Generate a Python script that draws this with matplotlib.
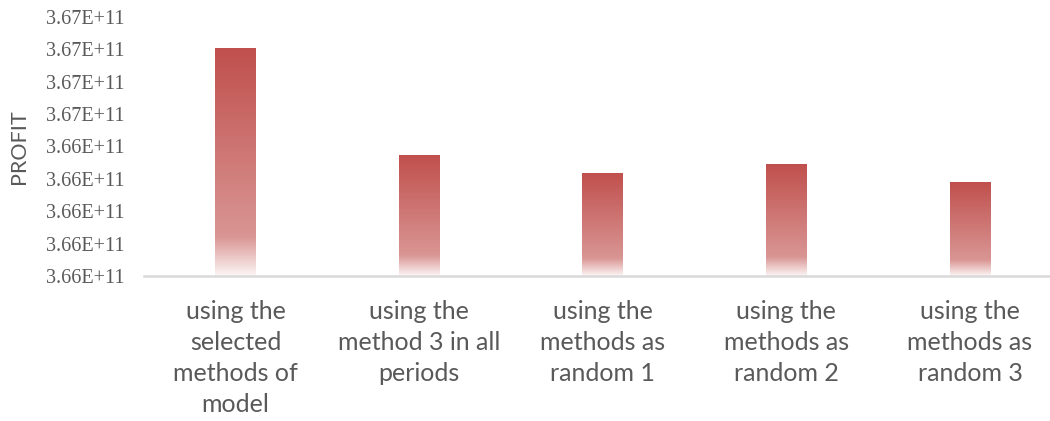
import numpy as np
import matplotlib
matplotlib.use("Agg")
import matplotlib.pyplot as plt
from matplotlib.colors import LinearSegmentedColormap

categories = [
    "using the\nselected\nmethods of\nmodel",
    "using the\nmethod 3 in all\nperiods",
    "using the\nmethods as\nrandom 1",
    "using the\nmethods as\nrandom 2",
    "using the\nmethods as\nrandom 3",
]
profit = [366.5405e9, 366.4741e9, 366.4630e9, 366.4691e9, 366.4580e9]
y_ticks = [366.40e9, 366.42e9, 366.44e9, 366.46e9, 366.48e9,
           366.50e9, 366.52e9, 366.54e9, 366.56e9]
y_tick_labels = ["3.66E+11", "3.66E+11", "3.66E+11", "3.66E+11", "3.66E+11",
                 "3.67E+11", "3.67E+11", "3.67E+11", "3.67E+11"]
y_label = "PROFIT"

fig = plt.figure(figsize=(10.5, 4.21), dpi=100)
ax = fig.add_axes([0.1369, 0.3444, 0.8744, 0.6157])

ymin, ymax = y_ticks[0], y_ticks[-1]
x = np.arange(len(categories))
bar_w = 0.223

cmap = LinearSegmentedColormap.from_list(
    "grad",
    [(0.0, (252/255, 245/255, 245/255)),
     (0.17, (217/255, 150/255, 148/255)),
     (1.0, (192/255, 80/255, 77/255))])
grad = np.linspace(0, 1, 256).reshape(-1, 1)

bars = ax.bar(x, [v - ymin for v in profit], bottom=ymin, width=bar_w,
              facecolor="none", edgecolor="none", zorder=2)
for b in bars:
    x0, y0 = b.get_x(), b.get_y()
    ax.imshow(grad, cmap=cmap, origin="lower", aspect="auto",
              extent=(x0, x0 + b.get_width(), y0, y0 + b.get_height()),
              interpolation="bilinear", zorder=2)

ax.set_xlim(-0.5, len(categories) - 0.5)
ax.set_ylim(ymin, ymax)
ax.set_yticks(y_ticks)
ax.set_yticklabels(y_tick_labels, family="Liberation Serif", fontsize=14.5,
                   color="#595959")
ax.set_xticks(x)
ax.set_xticklabels(categories, family="Lato", fontsize=18, color="#595959",
                   linespacing=1.42)
ax.tick_params(axis="both", length=0)
ax.tick_params(axis="x", pad=17)
ax.tick_params(axis="y", pad=14)
for s in ["top", "right", "left"]:
    ax.spines[s].set_visible(False)
ax.spines["bottom"].set_color("#D9D9D9")
ax.spines["bottom"].set_linewidth(1.8)
ax.spines["bottom"].set_zorder(3)
ax.set_ylabel(y_label, family="Lato", fontsize=15.5, color="#595959", labelpad=12)

fig.savefig("out.png", dpi=100)
